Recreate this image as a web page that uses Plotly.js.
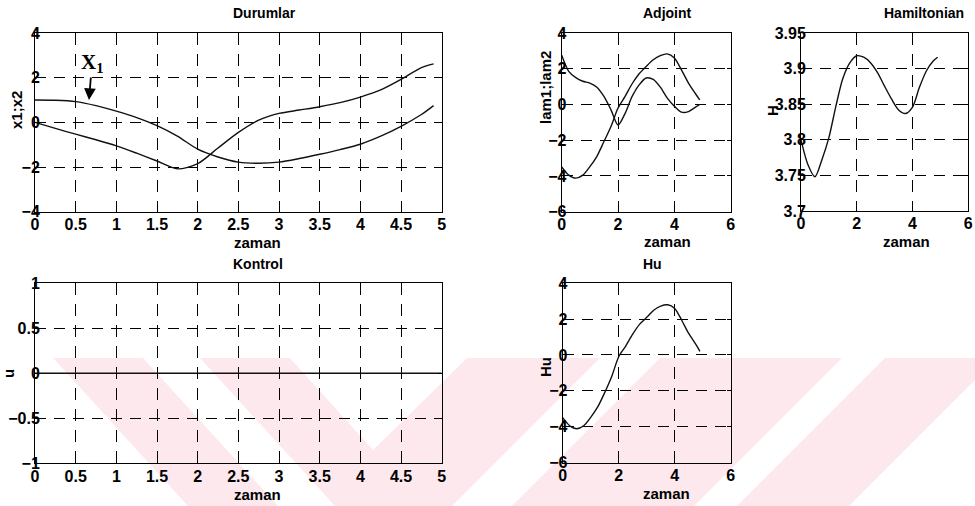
<!DOCTYPE html>
<html>
<head>
<meta charset="utf-8">
<script src="https://cdn.plot.ly/plotly-3.0.1.min.js"></script>
<style>html,body{margin:0;padding:0;background:#fff;}#chart{width:975px;height:506px;}</style>
</head>
<body>
<div id="chart"></div>
<script>
// ---- data ----
const t = [0,0.25,0.5,0.75,1,1.25,1.5,1.75,2,2.25,2.5,2.75,3,3.25,3.5,3.75,4,4.25,4.5,4.75,4.9];
const x1 = [1.0,0.99,0.93,0.75,0.5,0.21,-0.15,-0.62,-1.2,-1.55,-1.78,-1.83,-1.78,-1.62,-1.43,-1.22,-0.98,-0.62,-0.18,0.35,0.75];
const x2 = [0,-0.27,-0.53,-0.78,-1.05,-1.38,-1.73,-2.08,-1.85,-1.15,-0.45,0.1,0.4,0.55,0.7,0.88,1.13,1.45,1.92,2.45,2.62];
const lam1 = [2.75,1.85,1.5,1.3,1.2,0.97,0.45,-0.3,-1.15,-0.5,0.45,1.1,1.48,1.4,0.97,0.36,-0.1,-0.43,-0.4,-0.15,0.0];
const lam2 = [-3.5,-3.95,-4.12,-3.95,-3.48,-2.9,-2.07,-1.23,-0.2,0.45,1.16,1.72,2.13,2.5,2.73,2.83,2.6,1.94,1.2,0.6,0.26];
const Hval = [3.80,3.765,3.748,3.772,3.803,3.847,3.886,3.908,3.918,3.916,3.908,3.894,3.875,3.857,3.842,3.837,3.846,3.874,3.897,3.911,3.916];
const tu = [0,1,2,3,4,5];
const u = [0,0,0,0,0,0];
const hu = [-3.5,-3.95,-4.12,-3.95,-3.48,-2.9,-2.1,-1.2,-0.1,0.5,1.16,1.72,2.1,2.5,2.73,2.8,2.6,1.94,1.2,0.6,0.2];

// ---- layout helpers ----
const W = 975, H = 506;
const PX = x => x / W;
const PY = y => 1 - y / H;
const FONT = 'Liberation Sans, Arial, sans-serif';

function axis(d0, d1, range, dtick, anchor, isY) {
  const a = {
    domain: isY ? [PY(d1), PY(d0)] : [PX(d0), PX(d1)],
    range: range, dtick: dtick, tick0: range[0], anchor: anchor,
    showline: true, linecolor: '#000', linewidth: 1, mirror: 'ticks',
    ticks: 'inside', ticklen: 4, tickcolor: '#000', tickwidth: 1,
    showgrid: true, gridcolor: '#000', gridwidth: 1,
    griddash: isY ? '11px,8px' : '12px,9px',
    zeroline: false, fixedrange: true,
    tickfont: {family: FONT, size: 16, color: '#000', weight: 'bold'}
  };
  a.ticklabelstandoff = isY ? -9 : -2;
  return a;
}

const line = {color: '#111', width: 1.4, shape: 'spline', smoothing: 0.8};
const data = [
  {x: t, y: x1, xaxis: 'x', yaxis: 'y', mode: 'lines', line: line},
  {x: t, y: x2, xaxis: 'x', yaxis: 'y', mode: 'lines', line: line},
  {x: t, y: lam1, xaxis: 'x2', yaxis: 'y2', mode: 'lines', line: line},
  {x: t, y: lam2, xaxis: 'x2', yaxis: 'y2', mode: 'lines', line: line},
  {x: t, y: Hval, xaxis: 'x3', yaxis: 'y3', mode: 'lines', line: line},
  {x: tu, y: u, xaxis: 'x4', yaxis: 'y4', mode: 'lines', line: {color: '#111', width: 1.4}},
  {x: t, y: hu, xaxis: 'x5', yaxis: 'y5', mode: 'lines', line: line}
];

function txt(text, x, y, size, angle) {
  return {text: text, x: PX(x), y: PY(y), xref: 'paper', yref: 'paper', showarrow: false,
    xanchor: 'center', yanchor: 'middle', textangle: angle || 0,
    font: {family: FONT, size: size, color: '#000', weight: 'bold'}};
}

const annotations = [
  txt('Durumlar', 264, 13.5, 14), txt('Adjoint', 667, 13, 14), txt('Hamiltonian', 924, 13, 14),
  txt('Kontrol', 258, 264, 14), txt('Hu', 652, 264, 14),
  txt('zaman', 257, 242, 15), txt('zaman', 667, 241, 15), txt('zaman', 906, 241, 15),
  txt('zaman', 257, 494, 15), txt('zaman', 666, 493, 15),
  txt('x1;x2', 17, 110, 15, -90), txt('lam1;lam2', 545, 88, 15, -90), txt('H', 772, 111, 15, -90),
  txt('u', 8, 374, 15, -90), txt('Hu', 545, 367, 15, -90),
  {text: 'X<sub>1</sub>', x: 0.664, y: 1.0, xref: 'x', yref: 'y', showarrow: true,
   ax: 3, ay: -37, arrowhead: 2, arrowsize: 1.3, arrowwidth: 1.8, arrowcolor: '#000',
   font: {family: 'Liberation Serif, Times New Roman, serif', size: 21, color: '#000', weight: 'bold'}}
];

// faint pink watermark of the scanned page
function poly(pts) {
  return {type: 'path', xref: 'paper', yref: 'paper', layer: 'below', line: {width: 0},
    fillcolor: '#fde9ed',
    path: 'M' + pts.map(p => PX(p[0]).toFixed(4) + ',' + PY(p[1]).toFixed(4)).join('L') + 'Z'};
}
const shapes = [
  poly([[53,358],[143,358],[278,506],[188,506]]),
  poly([[200,358],[290,358],[373,450],[467,358],[600,358],[452,506],[335,506]]),
  poly([[660,358],[842,358],[694,506],[512,506]]),
  poly([[885,358],[975,358],[975,380],[849,506],[737,506]])
];

const layout = {
  width: W, height: H, margin: {l: 0, r: 0, t: 0, b: 0},
  paper_bgcolor: '#fff', plot_bgcolor: 'rgba(0,0,0,0)', showlegend: false,
  xaxis: axis(35, 441.7, [0, 5], 0.5, 'y', false),
  yaxis: axis(33, 211.7, [-4, 4], 2, 'x', true),
  xaxis2: axis(561.7, 730.7, [0, 6], 2, 'y2', false),
  yaxis2: axis(33, 211.7, [-6, 4], 2, 'x2', true),
  xaxis3: axis(801, 968.3, [0, 6], 2, 'y3', false),
  yaxis3: axis(33, 211, [3.7, 3.95], 0.05, 'x3', true),
  xaxis4: axis(35, 441.7, [0, 5], 0.5, 'y4', false),
  yaxis4: axis(283.3, 463.3, [-1, 1], 0.5, 'x4', true),
  xaxis5: axis(562.7, 730.7, [0, 6], 2, 'y5', false),
  yaxis5: axis(283.3, 462.5, [-6, 4], 2, 'x5', true),
  annotations: annotations, shapes: shapes
};

Plotly.newPlot('chart', data, layout, {displayModeBar: false, staticPlot: true});
</script>
</body>
</html>
